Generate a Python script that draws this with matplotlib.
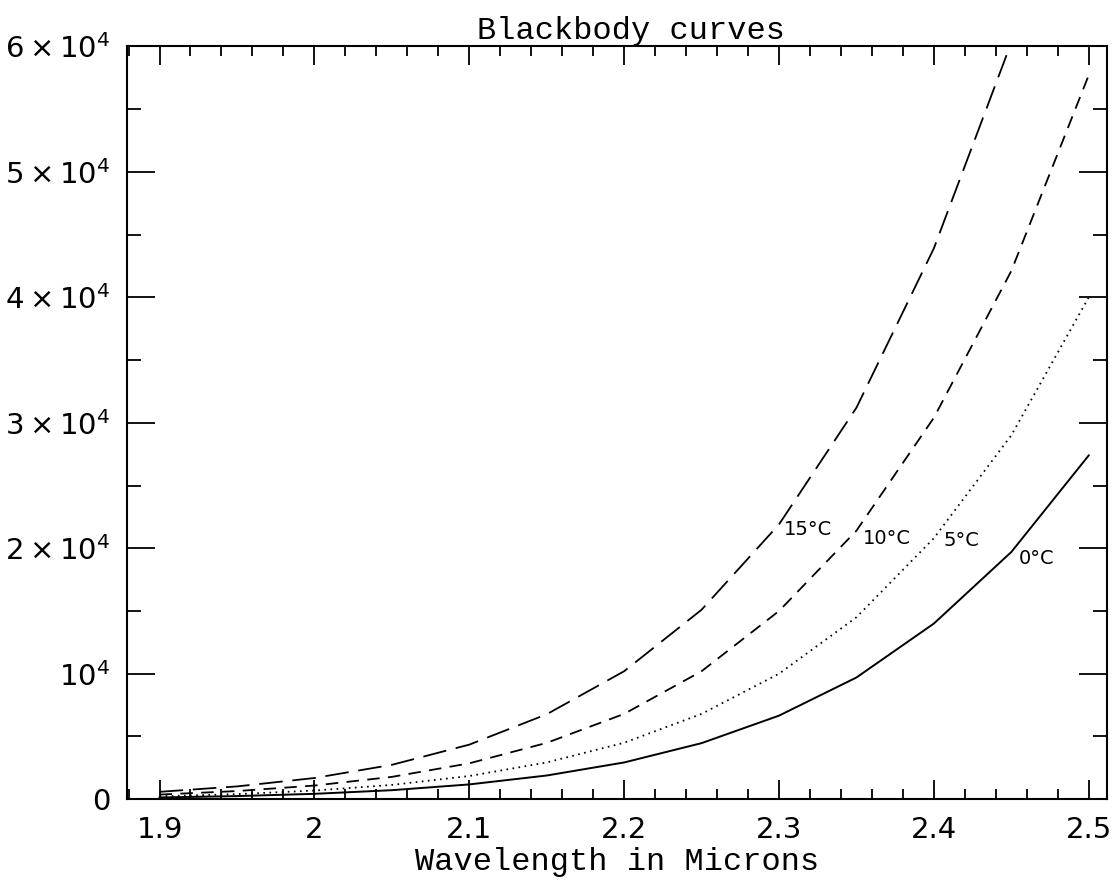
import matplotlib
matplotlib.use('Agg')
import matplotlib.pyplot as plt
from matplotlib.ticker import MultipleLocator, FixedLocator, FixedFormatter

plt.rcParams['lines.scale_dashes'] = False

# wavelength grid (microns) and curve values
wavelength = [1.90, 1.95, 2.00, 2.05, 2.10, 2.15, 2.20, 2.25, 2.30, 2.35, 2.40, 2.45, 2.50]
curve_0c = [140, 250, 430, 720, 1180, 1890, 2930, 4470, 6660, 9700, 14000, 19700, 27400]
curve_5c = [230, 405, 690, 1140, 1850, 2930, 4500, 6800, 10000, 14500, 20800, 29000, 40000]
curve_10c = [370, 650, 1090, 1780, 2860, 4490, 6800, 10200, 15000, 21400, 30400, 42100, 57700]
curve_15c = [590, 1020, 1690, 2740, 4350, 6770, 10200, 15100, 21900, 31200, 43900, 60300]

ytick_vals = [0, 1e4, 2e4, 3e4, 4e4, 5e4, 6e4]
ytick_labels = ['0', r'$10^4$', r'$2\times10^4$', r'$3\times10^4$',
                r'$4\times10^4$', r'$5\times10^4$', r'$6\times10^4$']
xtick_vals = [1.9, 2.0, 2.1, 2.2, 2.3, 2.4, 2.5]
xtick_labels = ['1.9', '2', '2.1', '2.2', '2.3', '2.4', '2.5']

curve_labels = ['15°C', '10°C', '5°C', '0°C']
label_x = [2.303, 2.354, 2.406, 2.455]
label_y = [2.15e4, 2.08e4, 2.06e4, 1.92e4]

fig = plt.figure(figsize=(11.14, 8.91), dpi=100)
ax = fig.add_axes([0.114, 0.103, 0.880, 0.845])

ax.plot(wavelength[:len(curve_15c)], curve_15c, color='black', lw=1.3, dashes=(17, 7))
ax.plot(wavelength, curve_10c, color='black', lw=1.3, dashes=(9, 6))
ax.plot(wavelength, curve_5c, color='black', lw=1.3, dashes=(1.2, 3.2))
ax.plot(wavelength, curve_0c, color='black', lw=1.4)

for lab, lx, ly in zip(curve_labels, label_x, label_y):
    ax.text(lx, ly, lab, fontsize=14, ha='left', va='center', family='DejaVu Sans')

ax.set_xlim(1.879, 2.512)
ax.set_ylim(0, 6e4)

ax.xaxis.set_major_locator(FixedLocator(xtick_vals))
ax.xaxis.set_major_formatter(FixedFormatter(xtick_labels))
ax.xaxis.set_minor_locator(MultipleLocator(0.02))
ax.yaxis.set_major_locator(FixedLocator(ytick_vals))
ax.yaxis.set_major_formatter(FixedFormatter(ytick_labels))
ax.yaxis.set_minor_locator(MultipleLocator(5000))

ax.tick_params(which='both', direction='in', top=True, right=True, width=1.3)
ax.tick_params(which='major', length=14, labelsize=21, pad=12)
ax.tick_params(which='minor', length=7)
ax.tick_params(axis='y', which='major', length=20)
ax.tick_params(axis='y', which='minor', length=10)
for s in ax.spines.values():
    s.set_linewidth(1.5)

ax.set_title('Blackbody curves', family='Liberation Mono', fontsize=23, pad=3, x=0.514)
ax.set_xlabel('Wavelength in Microns', family='Liberation Mono', fontsize=23, labelpad=2)

fig.savefig('out.png', dpi=100)
